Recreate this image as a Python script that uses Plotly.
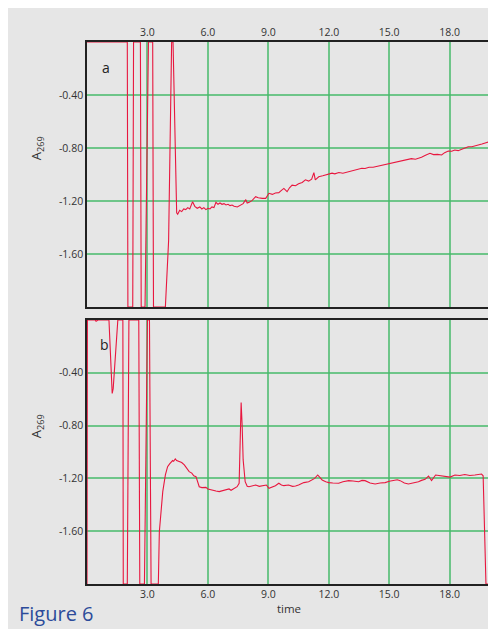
import plotly.graph_objects as go

# ---- data ----
x_a = [0, 2.0, 2.03, 2.27, 2.31, 2.65, 2.69, 2.85, 2.88, 3.05, 3.26, 3.3, 3.89, 4.05, 4.2, 4.27,
       4.45, 4.5, 4.6, 4.7, 4.8, 4.9, 5.0, 5.1, 5.24, 5.35, 5.47, 5.6, 5.7, 5.8, 5.9, 6.0, 6.1,
       6.2, 6.3, 6.4, 6.5, 6.6, 6.7, 6.8, 6.9, 7.0, 7.1, 7.2, 7.3, 7.46, 7.6, 7.75, 7.88, 7.95,
       8.05, 8.2, 8.37, 8.5, 8.7, 8.87, 9.03, 9.2, 9.35, 9.52, 9.65, 9.77, 9.93, 10.05, 10.18,
       10.35, 10.5, 10.68, 10.84, 11.0, 11.15, 11.26, 11.33, 11.5, 11.7, 11.92, 12.16, 12.3,
       12.5, 12.7, 12.99, 13.1, 13.3, 13.5, 13.64, 13.8, 14.0, 14.2, 14.47, 14.6, 14.8, 15.0,
       15.29, 15.45, 15.6, 15.8, 15.95, 16.1, 16.3, 16.45, 16.6, 16.8, 17.02, 17.2, 17.4, 17.6,
       17.75, 17.93, 18.1, 18.25, 18.42, 18.6, 18.75, 18.92, 19.1, 19.25, 19.41, 19.6, 19.8, 19.99]
y_a = [0, 0, -2, -2, 0, 0, -2, -2, -2, 0, 0, -2, -2, -1.5, 0, 0,
       -1.29, -1.30, -1.27, -1.28, -1.26, -1.265, -1.25, -1.26, -1.205, -1.24, -1.255, -1.245,
       -1.26, -1.25, -1.265, -1.255, -1.26, -1.245, -1.25, -1.21, -1.225, -1.215, -1.225, -1.22,
       -1.23, -1.225, -1.235, -1.23, -1.24, -1.245, -1.23, -1.22, -1.19, -1.215, -1.21, -1.195,
       -1.167, -1.175, -1.18, -1.18, -1.142, -1.15, -1.14, -1.137, -1.12, -1.105, -1.13, -1.10,
       -1.08, -1.085, -1.07, -1.06, -1.04, -1.05, -1.035, -0.986, -1.04, -1.017, -1.01, -1.0,
       -0.99, -0.995, -0.985, -0.99, -0.979, -0.97, -0.965, -0.96, -0.953, -0.955, -0.945,
       -0.945, -0.936, -0.93, -0.925, -0.92, -0.911, -0.905, -0.90, -0.895, -0.886, -0.88,
       -0.885, -0.88, -0.87, -0.855, -0.84, -0.85, -0.848, -0.853, -0.835, -0.823, -0.825,
       -0.815, -0.82, -0.81, -0.80, -0.79, -0.79, -0.785, -0.777, -0.77, -0.76, -0.752]

x_b = [0, 0.02, 0.4, 0.45, 0.55, 1.09, 1.25, 1.3, 1.53, 1.78, 1.8, 2.0, 2.08, 2.57, 2.62, 2.85,
       3.0, 3.1, 3.18, 3.54, 3.59, 3.76, 3.89, 4.0, 4.1, 4.17, 4.25, 4.3, 4.38, 4.45, 4.58, 4.7,
       4.83, 4.95, 5.07, 5.2, 5.3, 5.41, 5.5, 5.57, 5.7, 5.9, 6.0, 6.2, 6.4, 6.56, 6.7, 6.85,
       7.05, 7.15, 7.3, 7.45, 7.55, 7.62, 7.65, 7.7, 7.75, 7.85, 7.95, 8.04, 8.2, 8.37, 8.55,
       8.7, 8.9, 9.03, 9.2, 9.35, 9.52, 9.65, 9.77, 10.0, 10.2, 10.35, 10.5, 10.76, 11.0, 11.17,
       11.3, 11.45, 11.55, 11.67, 11.85, 12.0, 12.2, 12.49, 12.7, 12.99, 13.2, 13.48, 13.65,
       13.8, 14.05, 14.3, 14.55, 14.8, 15.0, 15.21, 15.4, 15.54, 15.75, 15.95, 16.2, 16.45,
       16.6, 16.78, 16.95, 17.1, 17.3, 17.5, 17.77, 18.02, 18.26, 18.5, 18.75, 19.0, 19.25,
       19.45, 19.58, 19.66, 19.72, 19.8, 19.9]
y_b = [-2, 0, 0, -0.01, 0, 0, -0.556, -0.52, 0, 0, -2, -2, 0, 0, -2, -2,
       0, 0, -2, -2, -1.604, -1.30, -1.174, -1.111, -1.09, -1.078, -1.065, -1.07, -1.053,
       -1.065, -1.07, -1.08, -1.098, -1.12, -1.149, -1.16, -1.18, -1.187, -1.24, -1.263, -1.27,
       -1.268, -1.28, -1.29, -1.295, -1.30, -1.295, -1.285, -1.28, -1.29, -1.275, -1.263,
       -1.237, -0.85, -0.626, -0.80, -1.06, -1.225, -1.26, -1.263, -1.255, -1.25, -1.26,
       -1.255, -1.25, -1.275, -1.265, -1.255, -1.237, -1.25, -1.255, -1.25, -1.26, -1.258,
       -1.25, -1.232, -1.225, -1.212, -1.20, -1.174, -1.19, -1.212, -1.225, -1.232, -1.235,
       -1.237, -1.225, -1.217, -1.22, -1.225, -1.215, -1.217, -1.235, -1.242, -1.235, -1.232,
       -1.222, -1.217, -1.21, -1.217, -1.235, -1.242, -1.235, -1.225, -1.215, -1.207, -1.182,
       -1.217, -1.174, -1.178, -1.182, -1.19, -1.174, -1.178, -1.17, -1.178, -1.174, -1.17,
       -1.167, -1.18, -1.6, -2.0, -2.0]

x_tickvals = [3, 6, 9, 12, 15, 18]
x_ticktext = ["3.0", "6.0", "9.0", "12.0", "15.0", "18.0"]
y_tickvals = [-0.4, -0.8, -1.2, -1.6]
y_ticktext = ["-0.40", "-0.80", "-1.20", "-1.60"]

RED = "#e8173f"
GRID = "rgba(70,185,105,0.75)"
BG = "#e6e6e6"
FONT = "Open Sans"

fig = go.Figure()
fig.add_trace(go.Scatter(x=x_a, y=y_a, mode="lines", line=dict(color=RED, width=1.1),
                         xaxis="x", yaxis="y", showlegend=False))
fig.add_trace(go.Scatter(x=x_b, y=y_b, mode="lines", line=dict(color=RED, width=1.1),
                         xaxis="x2", yaxis="y2", showlegend=False))

axis_common = dict(showline=True, linecolor="#222", linewidth=1.5, mirror=True,
                   showgrid=True, gridcolor=GRID, gridwidth=1.5, zeroline=False, ticks="",
                   tickfont=dict(family=FONT, size=10.5, color="#333"))

OFF = 8  # page body margin of the browser
W, H = 496 - OFF, 629 - OFF
L, R, T, B = 87 - OFF, 3, 42 - OFF, 45
ph = H - T - B
pw = W - L - R
top_a, bot_a = 42, 307
top_b, bot_b = 320, 584

def py(p):
    # p is a page pixel row in the reference
    return (H - B - (p - OFF)) / ph

def px(p):
    return (p - OFF - L) / pw

def note(text, x, y, size, color, angle=0, xanchor="center"):
    return dict(text=text, x=px(x), y=py(y), xref="paper", yref="paper", showarrow=False,
                xanchor=xanchor, yanchor="middle", textangle=angle,
                font=dict(family=FONT, size=size, color=color))

fig.update_layout(
    width=W, height=H,
    margin=dict(l=L, r=R, t=T, b=B),
    paper_bgcolor=BG, plot_bgcolor=BG,
    font=dict(family=FONT, color="#333"),
    xaxis=dict(axis_common, domain=[0, 1], anchor="y", side="top", range=[0, 20.05],
               tickvals=x_tickvals, ticktext=x_ticktext),
    yaxis=dict(axis_common, domain=[py(bot_a), py(top_a)], anchor="x", range=[-2.0, 0.0],
               tickvals=y_tickvals, ticktext=y_ticktext),
    xaxis2=dict(axis_common, domain=[0, 1], anchor="y2", range=[0, 20.05],
                tickvals=x_tickvals, ticktext=x_ticktext,
                title=dict(text="time", font=dict(family=FONT, size=11.5, color="#333"), standoff=5)),
    yaxis2=dict(axis_common, domain=[py(bot_b), py(top_b)], anchor="x2", range=[-2.0, 0.0],
                tickvals=y_tickvals, ticktext=y_ticktext),
    shapes=[
        dict(type="line", xref="paper", yref="paper", x0=px(493), x1=px(493), y0=py(bot_a), y1=py(top_a),
             line=dict(color="#666", width=2.5)),
        dict(type="line", xref="paper", yref="paper", x0=px(493), x1=px(493), y0=py(bot_b), y1=py(top_b),
             line=dict(color="#666", width=2.5)),
    ],
    annotations=[
        note("a", 106, 67, 14, "#222"),
        note("b", 105, 344, 14, "#222"),
        note("A<sub>269</sub>", 37, 148, 13, "#333", angle=-90),
        note("A<sub>269</sub>", 37, 426, 13, "#333", angle=-90),
        note("Figure 6", 17, 613, 20, "#2c4b9a", xanchor="left"),
    ],
)

fig.write_html("out.html")
